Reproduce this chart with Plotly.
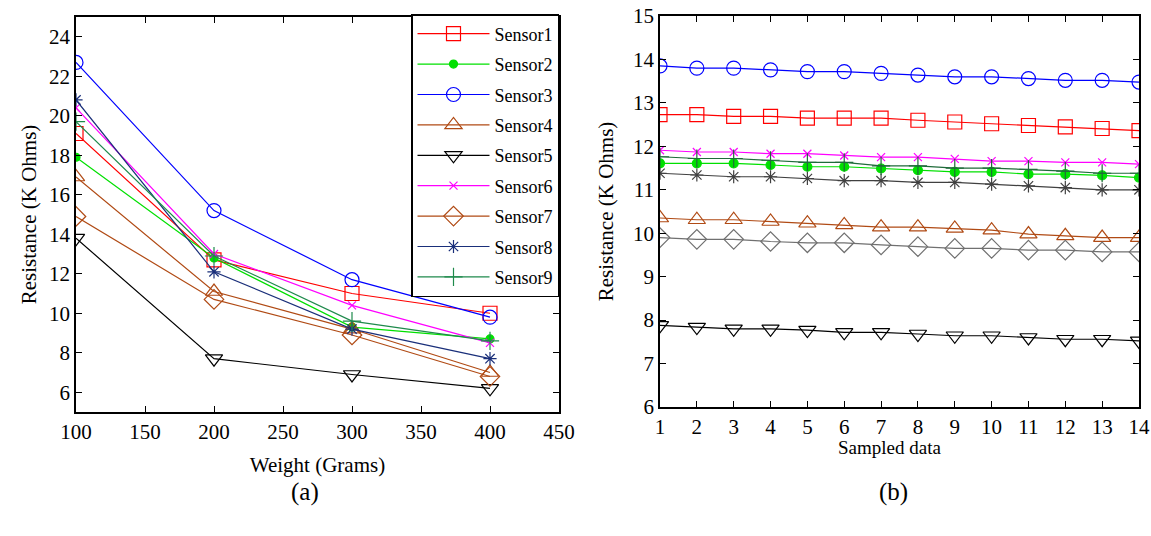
import plotly.graph_objects as go

# ---------------- data ----------------
sensors = ["Sensor1", "Sensor2", "Sensor3", "Sensor4", "Sensor5",
           "Sensor6", "Sensor7", "Sensor8", "Sensor9"]

weights = [100, 200, 300, 400]
res_s1 = [19.1, 12.7, 11.0, 10.0]
res_s2 = [17.9, 12.8, 9.3, 8.7]
res_s3 = [22.7, 15.2, 11.7, 9.8]
res_s4 = [16.9, 11.1, 9.2, 7.0]
res_s5 = [13.8, 7.7, 6.9, 6.2]
res_s6 = [20.4, 13.0, 10.4, 8.5]
res_s7 = [14.9, 10.7, 8.9, 6.8]
res_s8 = [20.8, 12.1, 9.2, 7.7]
res_s9 = [19.7, 12.9, 9.6, 8.6]

samples = list(range(1, 15))
smp_s1 = [12.73, 12.73, 12.69, 12.69, 12.65, 12.65, 12.65, 12.60, 12.56, 12.52, 12.48, 12.45, 12.41, 12.36]
smp_s2 = [11.61, 11.61, 11.61, 11.57, 11.53, 11.53, 11.49, 11.45, 11.41, 11.41, 11.36, 11.36, 11.33, 11.28]
smp_s3 = [13.85, 13.80, 13.80, 13.76, 13.72, 13.72, 13.68, 13.64, 13.60, 13.60, 13.56, 13.52, 13.52, 13.48]
smp_s4 = [10.35, 10.31, 10.31, 10.27, 10.23, 10.19, 10.14, 10.14, 10.11, 10.07, 9.98, 9.94, 9.90, 9.90]
smp_s5 = [7.88, 7.84, 7.80, 7.80, 7.77, 7.72, 7.72, 7.68, 7.64, 7.64, 7.60, 7.56, 7.56, 7.52]
smp_s6 = [11.91, 11.87, 11.87, 11.83, 11.83, 11.79, 11.75, 11.75, 11.71, 11.66, 11.66, 11.63, 11.63, 11.59]
smp_s7 = [9.90, 9.86, 9.86, 9.81, 9.78, 9.78, 9.73, 9.69, 9.65, 9.65, 9.61, 9.61, 9.57, 9.57]
smp_s8 = [11.38, 11.34, 11.30, 11.30, 11.26, 11.21, 11.21, 11.17, 11.17, 11.13, 11.09, 11.05, 11.00, 11.00]
smp_s9 = [11.76, 11.72, 11.72, 11.68, 11.63, 11.63, 11.55, 11.55, 11.50, 11.50, 11.47, 11.43, 11.38, 11.38]

left_series = [res_s1, res_s2, res_s3, res_s4, res_s5, res_s6, res_s7, res_s8, res_s9]
right_series = [smp_s1, smp_s2, smp_s3, smp_s4, smp_s5, smp_s6, smp_s7, smp_s8, smp_s9]

# ---------------- styles ----------------
left_colors = ["#ff0000", "#00e000", "#0000ff", "#b04a14", "#000000",
               "#ff00ff", "#b04a14", "#1a2f7a", "#1f8a4c"]
right_colors = ["#ff0000", "#00e000", "#0000ff", "#b04a14", "#000000",
                "#ff00ff", "#707070", "#404040", "#1f6b3a"]
symbols = ["square-open", "circle", "circle-open", "triangle-up-open",
           "triangle-down-open", "x-thin-open", "diamond-open",
           "asterisk-open", "cross-thin-open"]
left_sizes = [14, 8, 14, 15, 15, 8, 15, 11, 13]
right_sizes = [14, 9, 14, 15, 15, 8, 15, 11, 13]

FONT = "Liberation Serif"

fig = go.Figure()

for i, name in enumerate(sensors):
    fig.add_trace(go.Scatter(
        x=weights, y=left_series[i], name=name, mode="lines+markers",
        legendgroup=name,
        line=dict(color=left_colors[i], width=1.2),
        marker=dict(symbol=symbols[i], size=left_sizes[i], color=left_colors[i],
                    line=dict(color=left_colors[i], width=1.2)),
        xaxis="x", yaxis="y"))

for i, name in enumerate(sensors):
    fig.add_trace(go.Scatter(
        x=samples, y=right_series[i], name=name, mode="lines+markers",
        showlegend=False,
        line=dict(color=right_colors[i], width=1.2),
        marker=dict(symbol=symbols[i], size=right_sizes[i], color=right_colors[i],
                    line=dict(color=right_colors[i], width=1.2)),
        xaxis="x2", yaxis="y2"))

# body margin is removed by the post script below, so the figure fills the window
W, H = 1151, 536
def px(x):
    return x / W
def py(y):
    return 1 - y / H

axis_common = dict(showline=True, linecolor="black", linewidth=1.5, mirror="ticks",
                   ticks="inside", ticklen=6, tickcolor="black", showgrid=False,
                   zeroline=False, automargin=False, ticklabeloverflow="allow",
                   tickfont=dict(family=FONT, size=21, color="black"))

fig.update_layout(
    width=W, height=H,
    margin=dict(l=0, r=0, t=0, b=0, autoexpand=False),
    paper_bgcolor="white", plot_bgcolor="white",
    font=dict(family=FONT, color="black"),
    xaxis=dict(domain=[px(76), px(559)], range=[100, 450], tickvals=[100, 150, 200, 250, 300, 350, 400, 450],
               anchor="y",
               title=dict(text="Weight (Grams)", font=dict(family=FONT, size=21), standoff=14),
               **axis_common),
    yaxis=dict(domain=[py(412), py(17)], range=[5, 25], tickvals=[6, 8, 10, 12, 14, 16, 18, 20, 22, 24],
               anchor="x",
               title=dict(text="Resistance (K Ohms)", font=dict(family=FONT, size=21), standoff=7),
               **axis_common),
    xaxis2=dict(domain=[px(660), px(1139)], range=[1, 14], tickvals=samples,
                anchor="y2", **axis_common),
    yaxis2=dict(domain=[py(407), py(16)], range=[6, 15], tickvals=list(range(6, 16)),
                anchor="x2",
                title=dict(text="Resistance (K Ohms)", font=dict(family=FONT, size=21), standoff=14),
                **axis_common),
    legend=dict(x=px(559), xanchor="right", y=py(14), yanchor="top",
                bgcolor="white", bordercolor="black", borderwidth=1.5,
                font=dict(family=FONT, size=18, color="black"),
                traceorder="grouped", tracegroupgap=4, itemwidth=72),
    annotations=[
        dict(text="Sampled data", x=px(889), y=py(447), xref="paper", yref="paper",
             xanchor="center", yanchor="middle",
             showarrow=False, font=dict(family=FONT, size=19, color="black")),
        dict(text="(a)", x=px(305), y=py(492), xref="paper", yref="paper",
             xanchor="center", yanchor="middle",
             showarrow=False, font=dict(family=FONT, size=25, color="black")),
        dict(text="(b)", x=px(893), y=py(492), xref="paper", yref="paper",
             xanchor="center", yanchor="middle",
             showarrow=False, font=dict(family=FONT, size=25, color="black")),
    ],
)

fig.write_html("out.html", config={"displayModeBar": False},
               post_script="document.body.style.margin='0';document.body.style.overflow='hidden';")
